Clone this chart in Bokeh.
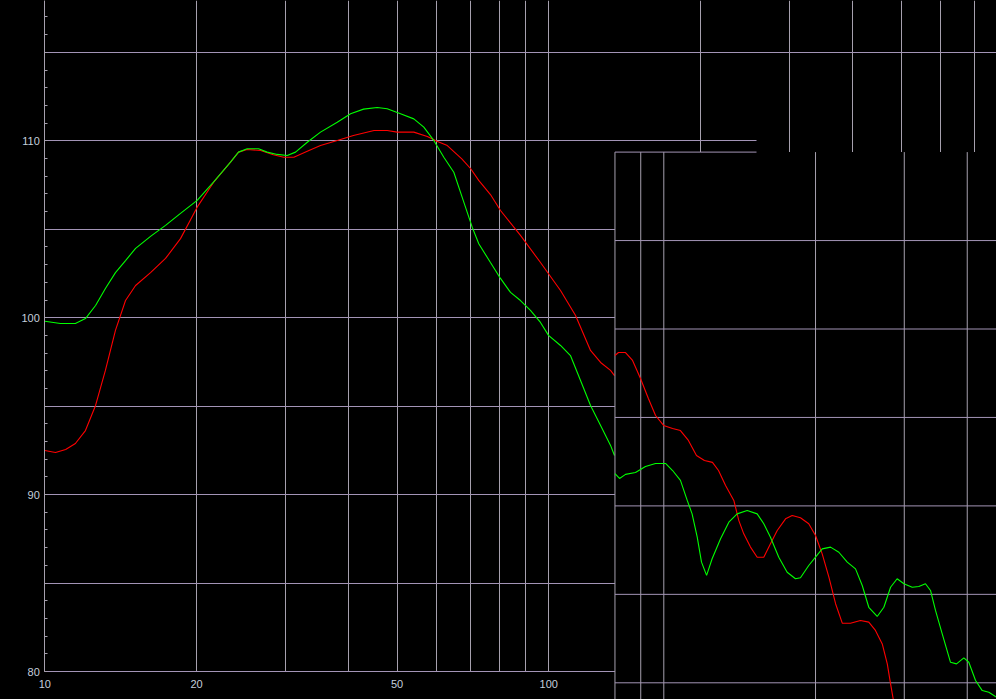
from bokeh.plotting import figure
from bokeh.models import (Range1d, LogScale, LinearScale, LinearAxis, LogAxis, Grid, FixedTicker,
                          SingleIntervalTicker, BoxAnnotation, GlobalInlineStyleSheet)
from bokeh.embed import file_html
from bokeh.resources import INLINE

# ---------------- data (main view) ----------------
main_green_f = [10.0, 10.74, 11.5, 12.04, 12.61, 13.19, 13.81, 14.46, 15.14, 16.21, 17.36, 18.59,
                20.06, 21.61, 23.36, 24.23, 25.21, 26.55, 27.62, 28.92, 30.27, 31.44, 33.17, 35.24,
                38.04, 40.43, 42.9, 45.65, 47.79, 50.79, 53.97, 56.49, 59.13, 61.9, 64.79, 67.82,
                70.47, 72.62, 76.6, 80.2, 83.95, 87.86, 91.96, 96.27, 99.87, 105.5, 110.4, 115.6,
                121.0, 126.7, 132.6, 135.0]
main_green_db = [99.8, 99.67, 99.67, 99.95, 100.69, 101.65, 102.55, 103.23, 103.92, 104.6, 105.22, 105.9,
                 106.63, 107.66, 108.79, 109.36, 109.55, 109.55, 109.36, 109.23, 109.17, 109.36, 109.92, 110.49,
                 111.05, 111.53, 111.79, 111.88, 111.81, 111.53, 111.24, 110.77, 110.02, 109.07, 108.22, 106.53,
                 105.12, 104.18, 103.12, 102.22, 101.43, 100.97, 100.41, 99.73, 99.0, 98.43, 97.86, 96.45,
                 95.04, 93.91, 92.78, 92.21]

main_red_f = [10.0, 10.5, 11.0, 11.5, 12.04, 12.61, 13.19, 13.81, 14.46, 15.14, 16.21, 17.36, 18.59,
              20.06, 21.63, 23.36, 24.23, 25.21, 26.8, 28.4, 29.8, 31.2, 33.17, 35.24, 38.04, 40.96,
              45.0, 47.79, 50.0, 53.97, 57.4, 60.0, 62.9, 67.2, 70.0, 72.6, 76.6, 80.2, 87.86, 96.27,
              105.5, 113.0, 121.0, 126.7, 132.6, 135.0]
main_red_db = [92.49, 92.38, 92.55, 92.89, 93.62, 95.04, 97.02, 99.28, 100.97, 101.82, 102.55, 103.35, 104.47,
               106.25, 107.66, 108.79, 109.36, 109.51, 109.45, 109.21, 109.07, 109.07, 109.41, 109.73, 110.02, 110.3,
               110.58, 110.58, 110.49, 110.49, 110.24, 109.98, 109.73, 108.98, 108.42, 107.76, 106.96, 106.06, 104.65, 103.12,
               101.54, 100.12, 98.15, 97.47, 97.02, 96.73]

# ---------------- data (overlapping second view) ----------------
inset_red_f = [80.0, 81.3, 83.95, 86.7, 89.9, 93.2, 96.3, 99.9, 104.1, 107.9, 111.9, 116.1, 120.4, 124.9,
               128.4, 132.6, 137.7, 140.9, 144.1, 148.6, 153.2, 157.9, 162.8, 167.9, 174.4, 179.8, 186.7,
               193.9, 200.0, 206.2, 212.6, 219.2, 226.0, 234.6, 245.6, 255.1, 263.0, 271.3, 277.6, 281.8, 285.3]
inset_red_db = [98.5, 98.67, 98.67, 98.22, 97.2, 96.07, 95.11, 94.55, 94.38, 94.26, 93.7, 92.85, 92.57, 92.46,
                92.0, 91.15, 90.31, 89.17, 88.42, 87.67, 87.1, 87.1, 87.86, 88.61, 89.27, 89.46, 89.33,
                88.99, 88.33, 87.29, 85.97, 84.47, 83.37, 83.37, 83.52, 83.43, 82.96, 82.2, 81.07, 79.94, 79.06]

inset_green_f = [80.0, 81.7, 83.95, 87.86, 91.96, 96.3, 100.8, 104.1, 107.9, 111.3, 113.8, 116.5, 118.8,
                 121.6, 124.7, 129.6, 134.6, 139.8, 146.4, 153.2, 157.9, 162.8, 169.1, 175.7, 182.5, 186.7,
                 193.9, 200.0, 206.2, 214.2, 222.5, 231.2, 240.1, 247.6, 255.1, 265.1, 273.3, 281.8, 290.4,
                 299.5, 311.1, 320.6, 330.5, 338.2, 346.0, 356.8, 370.6, 380.9, 393.8, 402.9, 415.5, 428.4,
                 441.5, 457.2]
inset_green_db = [91.83, 91.55, 91.78, 91.89, 92.23, 92.4, 92.4, 92.0, 91.44, 90.31, 89.55, 88.23, 86.82,
                  86.07, 87.01, 88.14, 89.08, 89.55, 89.74, 89.55, 88.99, 88.23, 87.1, 86.25, 85.88, 85.94,
                  86.63, 87.1, 87.57, 87.67, 87.38, 86.82, 86.44, 85.5, 84.27, 83.75, 84.27, 85.4, 85.88,
                  85.6, 85.4, 85.44, 85.6, 85.22, 84.09, 82.77, 81.16, 81.07, 81.41, 81.16, 80.13, 79.56,
                  79.47, 79.19]

# ticks / grid values
x_grid_ticks = [10, 20, 30, 40, 50, 60, 70, 80, 90, 100, 200, 300, 400, 500, 600, 700]
x_label_ticks = [10, 20, 50, 100]
y_label_interval = 10
y_grid_full = [80, 85, 90, 95, 100, 105, 115]
y_grid_cut = [110]
inset_x_ticks = [80, 90, 100, 200, 300, 400]
inset_y_ticks = [80, 85, 90, 95, 100, 105, 110]

# ---------------- layout geometry (pixels) ----------------
W, H = 996, 699
PX_DEC = 504.0     # pixels per decade
PX_DB = 17.69      # pixels per dB
X10_MAIN = 44.3    # pixel of 10 Hz (main view)
Y80_MAIN = 671.0   # pixel of 80 dB (main view)
X100_INSET = 663.3
Y80_INSET = 682.3
CUT_PX = 756.0     # where the top 110-dB lines stop

main_x0 = 10 ** (1 - X10_MAIN / PX_DEC)
main_x1 = 10 ** (1 + (W - X10_MAIN) / PX_DEC)
main_y0 = 80 - (H - Y80_MAIN) / PX_DB
main_y1 = 80 + Y80_MAIN / PX_DB
inset_x0 = 10 ** (2 - X100_INSET / PX_DEC)
inset_x1 = 10 ** (2 + (W - X100_INSET) / PX_DEC)
inset_y0 = 80 - (H - Y80_INSET) / PX_DB
inset_y1 = 80 + Y80_INSET / PX_DB
cut_main = 10 ** (1 + (CUT_PX - X10_MAIN) / PX_DEC)
cut_inset = 10 ** (2 + (CUT_PX - X100_INSET) / PX_DEC)

GRID_H = "#a394b6"
GRID_V = "#a6a0ae"
LABEL = "#c4cedc"
FONT = "Liberation Sans"

p = figure(width=W, height=H, output_backend="svg", toolbar_location=None,
           x_range=Range1d(main_x0, main_x1), y_range=Range1d(main_y0, main_y1),
           x_axis_type="log", x_axis_location=None, y_axis_location=None,
           background_fill_color="black", border_fill_color="black",
           outline_line_color=None,
           min_border_left=0, min_border_right=0, min_border_top=0, min_border_bottom=0)
p.x_scale = LogScale()
p.stylesheets = [GlobalInlineStyleSheet(css="body{background:#000;}")]

for g in p.xgrid + p.ygrid:
    g.visible = False

p.extra_x_ranges = {"inset": Range1d(inset_x0, inset_x1)}
p.extra_x_scales = {"inset": LogScale()}
p.extra_y_ranges = {"inset": Range1d(inset_y0, inset_y1)}
p.extra_y_scales = {"inset": LinearScale()}

has_cb = "cross_bounds" in Grid.properties()

# main grids
xg = Grid(dimension=0, ticker=FixedTicker(ticks=x_grid_ticks), grid_line_color=GRID_V, grid_line_width=1)
yg = Grid(dimension=1, ticker=FixedTicker(ticks=y_grid_full), grid_line_color=GRID_H, grid_line_width=1)
yg2 = Grid(dimension=1, ticker=FixedTicker(ticks=y_grid_cut), grid_line_color=GRID_H, grid_line_width=1)
if has_cb:
    xg.cross_bounds = (80, main_y1)
    yg.cross_bounds = (min(x_grid_ticks), main_x1)
    yg2.cross_bounds = (min(x_grid_ticks), cut_main)
p.add_layout(xg)
p.add_layout(yg)
p.add_layout(yg2)

# left axis of the main view, drawn at 10 Hz
yax = LinearAxis(ticker=SingleIntervalTicker(interval=y_label_interval, num_minor_ticks=10),
                 bounds=(80, main_y1), fixed_location=min(x_grid_ticks),
                 axis_line_color=GRID_V, axis_line_width=1,
                 major_tick_in=0, major_tick_out=0,
                 minor_tick_in=3, minor_tick_out=0, minor_tick_line_color=GRID_V,
                 major_label_text_font=FONT, major_label_text_font_size="11px",
                 major_label_text_color=LABEL, major_label_standoff=5)
p.add_layout(yax, "left")

# bottom axis of the main view, drawn at the 80 dB line
xax = LogAxis(ticker=FixedTicker(ticks=x_label_ticks), fixed_location=80,
              axis_line_color=None, major_tick_line_color=None, minor_tick_line_color=None,
              major_tick_in=0, major_tick_out=0,
              major_label_text_font=FONT, major_label_text_font_size="11px",
              major_label_text_color=LABEL, major_label_standoff=8)
p.add_layout(xax, "below")

# main curves
p.line(main_red_f, main_red_db, line_color="#ff0000", line_width=1.1)
p.line(main_green_f, main_green_db, line_color="#00ff00", line_width=1.1)

# second (overlapping) view: black panel, its own grid and curves
box = BoxAnnotation(left=min(inset_x_ticks), top=max(inset_y_ticks),
                    x_range_name="inset", y_range_name="inset",
                    fill_color="black", fill_alpha=1.0, line_alpha=0, level="underlay")
p.add_layout(box)

p.segment(x0=inset_x_ticks, y0=[max(inset_y_ticks)] * len(inset_x_ticks),
          x1=inset_x_ticks, y1=[inset_y0] * len(inset_x_ticks),
          line_color=GRID_V, line_width=1, x_range_name="inset", y_range_name="inset")
h_ends = [cut_inset if v == max(inset_y_ticks) else inset_x1 for v in inset_y_ticks]
p.segment(x0=[min(inset_x_ticks)] * len(inset_y_ticks), y0=inset_y_ticks,
          x1=h_ends, y1=inset_y_ticks,
          line_color=GRID_H, line_width=1, x_range_name="inset", y_range_name="inset")

p.line(inset_red_f, inset_red_db, line_color="#ff0000", line_width=1.1,
       x_range_name="inset", y_range_name="inset")
p.line(inset_green_f, inset_green_db, line_color="#00ff00", line_width=1.1,
       x_range_name="inset", y_range_name="inset")

open("out.html", "w").write(file_html(p, INLINE))
